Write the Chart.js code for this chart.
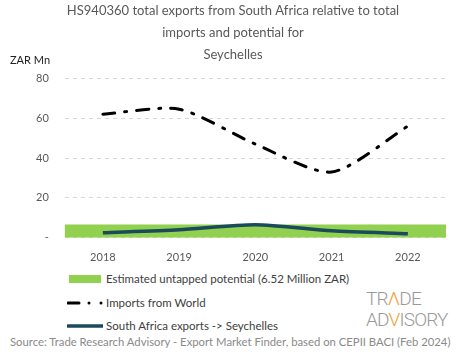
<!DOCTYPE html>
<html>
<head>
<meta charset="utf-8">
<script src="https://cdn.jsdelivr.net/npm/chart.js@4.4.1/dist/chart.umd.min.js"></script>
<style>
  body { margin: 0; background: #fff; font-family: "Lato", sans-serif; }
  #wrap { position: relative; width: 465px; height: 359px; overflow: hidden; }
  #box { position: absolute; left: 0; top: 0; width: 465px; height: 269px; }
  .unit { position: absolute; left: 10px; top: 53px; font-size: 11px; color: #222; }
  .leg { position: absolute; left: 67px; font-size: 11.5px; color: #404040; display: flex; align-items: center; }
  .leg svg { margin-right: 3px; }
  .src { position: absolute; left: 10px; top: 335px; font-size: 11.3px; color: #8a8a8a; white-space: nowrap; }
  .logo { position: absolute; left: 366px; top: 288px; font-family: "Roboto", sans-serif; font-weight: 300; color: #9a9a9a; font-size: 19px; line-height: 21px; letter-spacing: -0.8px; }
  .logo b { font-weight: 300; color: #f0a030; }
</style>
</head>
<body>
<div id="wrap">
  <div id="box"><canvas id="chart"></canvas></div>
  <div class="unit">ZAR Mn</div>
  <div class="leg" style="top:272px"><svg width="36" height="10"><rect x="2" y="1" width="32" height="8" fill="#92d050"/></svg>Estimated untapped potential (6.52 Million ZAR)</div>
  <div class="leg" style="top:296px"><svg width="36" height="10"><line x1="1" y1="5" x2="12" y2="5" stroke="#000" stroke-width="3" stroke-linecap="round"/><circle cx="22" cy="5" r="1.5"/><circle cx="34" cy="5" r="1.5"/></svg>Imports from World</div>
  <div class="leg" style="top:319px"><svg width="36" height="10"><line x1="1" y1="5" x2="36" y2="5" stroke="#1b4a5c" stroke-width="3.5" stroke-linecap="round"/></svg>South Africa exports -&gt; Seychelles</div>
  <div class="logo">TR<b>Λ</b>DE<br>AD<b>V</b>ISORY</div>
  <div class="src">Source: Trade Research Advisory - Export Market Finder, based on CEPII BACI (Feb 2024)</div>
</div>
<script>
  const years = ["2018", "2019", "2020", "2021", "2022"];
  const potential = [6.52, 6.52, 6.52, 6.52, 6.52];
  const importsWorld = [62, 64.5, 47, 33, 56];
  const saExports = [2.5, 4, 6.5, 3.5, 2];

  const gray = "#595959";

  new Chart(document.getElementById("chart"), {
    type: "bar",
    data: {
      labels: years,
      datasets: [
        {
          type: "line",
          label: "Imports from World",
          data: importsWorld,
          borderColor: "#000",
          borderWidth: 3,
          borderDash: [12, 10, 2, 10],
          borderCapStyle: "round",
          tension: 0.25,
          pointRadius: 0,
          order: 1,
        },
        {
          type: "line",
          label: "South Africa exports -> Seychelles",
          data: saExports,
          borderColor: "#1b4a5c",
          borderWidth: 3.5,
          tension: 0.25,
          pointRadius: 0,
          order: 2,
        },
        {
          label: "Estimated untapped potential (6.52 Million ZAR)",
          data: potential,
          backgroundColor: "#92d050",
          barPercentage: 1,
          categoryPercentage: 1,
          order: 3,
        },
      ],
    },
    options: {
      responsive: true,
      maintainAspectRatio: false,
      animation: false,
      layout: { padding: { left: 20, right: 19, top: 0, bottom: 0 } },
      plugins: {
        legend: { display: false },
        tooltip: { enabled: false },
        title: {
          display: true,
          text: ["HS940360 total exports from South Africa relative to total", "imports and potential for", "Seychelles"],
          color: gray,
          font: { family: "Lato", size: 13, weight: "normal", lineHeight: 1.7 },
          padding: { top: 0, bottom: 12 },
        },
      },
      scales: {
        x: {
          grid: { display: false },
          border: { display: false },
          ticks: { color: gray, font: { family: "Lato", size: 11 }, padding: 5 },
        },
        y: {
          min: 0,
          max: 80,
          ticks: {
            stepSize: 20,
            color: gray,
            font: { family: "Lato", size: 11 },
            padding: 16,
            callback: (v) => (v === 0 ? "-" : v),
          },
          grid: { color: "#d9d9d9", drawTicks: false },
          border: { display: false, dash: [4, 4] },
        },
      },
    },
  });
</script>
</body>
</html>
